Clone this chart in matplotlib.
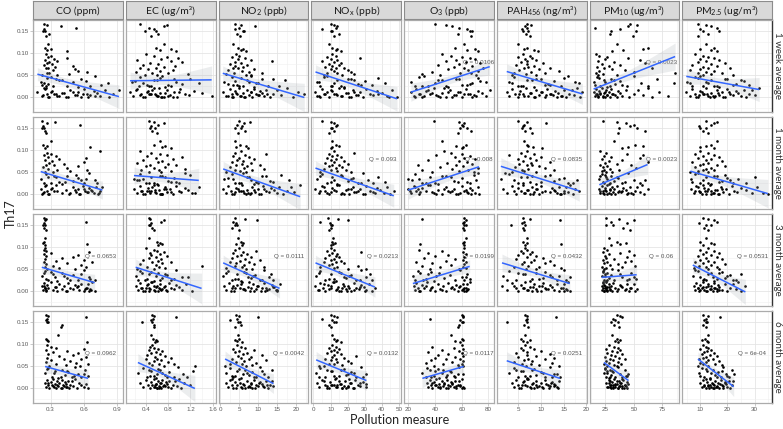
import numpy as np
import matplotlib
matplotlib.use("Agg")
import matplotlib.pyplot as plt
from matplotlib.ticker import MultipleLocator, FormatStrFormatter
import matplotlib.transforms as mtrans

plt.rcParams['font.family'] = ['Lato', 'DejaVu Sans']
plt.rcParams['mathtext.fontset'] = 'custom'
plt.rcParams['mathtext.rm'] = 'Lato'
plt.rcParams['mathtext.it'] = 'Lato:italic'
plt.rcParams['mathtext.bf'] = 'Lato:bold'

# ---------------- data ----------------
pollutants = ["CO (ppm)", "EC (ug/m³)", r"NO$_\mathrm{2}$ (ppb)", r"NO$_\mathrm{x}$ (ppb)",
              r"O$_\mathrm{3}$ (ppb)", r"PAH$_\mathrm{456}$ (ng/m³)", r"PM$_\mathrm{10}$ (ug/m³)",
              r"PM$_\mathrm{2.5}$ (ug/m³)"]
windows = ["1 week average", "1 month average", "3 month average", "6 month average"]

# Th17 value for each subject (shared by all panels)
th17 = [.168, .165, .162, .158, .155, .152, .150, .145, .140, .122, .112, .110, .108, .105,
        .098, .095, .092, .090, .088, .085, .082, .080, .078, .076, .074, .072, .070, .068,
        .066, .064, .062, .060, .058, .056, .055, .053, .052, .050,
        .035, .046, .027, .040, .024, .043, .030, .037, .025, .048, .032, .026, .042, .029,
        .045, .036, .025, .039, .028, .033,
        .012, .003, .019, .007, .001, .015, .009, .022, .004, .011, .000, .017, .006, .013,
        .002, .020, .008, .005, .014, .010, .003, .018, .001, .009, .016, .006, .021, .002,
        .012, .007, .004, .010, .000, .013, .005, .008, .001, .003]

# ---- CO ----
co_1w = [0.24,0.27,0.39,0.53,0.24,0.25,0.23,0.29,0.26,0.28,0.25,0.30,0.27,0.45,
         0.26,0.30,0.28,0.45,0.33,0.25,0.36,0.29,0.27,0.31,0.24,0.50,0.34,0.28,0.26,0.52,0.32,0.55,0.63,0.29,0.27,0.47,0.36,0.22,
         0.21,0.30,0.26,0.40,0.55,0.35,0.28,0.62,0.45,0.70,0.24,0.32,0.58,0.76,0.27,0.50,0.66,0.38,0.22,0.82,
         0.18,0.22,0.25,0.27,0.29,0.31,0.33,0.24,0.36,0.40,0.44,0.48,0.52,0.55,0.58,0.60,0.63,0.66,0.69,0.72,
         0.75,0.79,0.83,0.87,0.92,0.23,0.26,0.28,0.30,0.35,0.38,0.42,0.46,0.50,0.54,0.59,0.64,0.70]
co_1m = [0.22,0.34,0.27,0.57,0.23,0.22,0.24,0.25,0.26,0.30,0.23,0.27,0.66,0.25,
         0.75,0.27,0.30,0.24,0.35,0.28,0.62,0.38,0.25,0.31,0.60,0.29,0.42,0.26,0.33,0.55,0.23,0.45,0.28,0.36,0.63,0.48,0.25,0.32,
         0.21,0.26,0.30,0.35,0.40,0.45,0.50,0.55,0.60,0.65,0.70,0.24,0.33,0.43,0.53,0.62,0.72,0.28,0.38,0.58,
         0.21,0.23,0.25,0.27,0.29,0.31,0.33,0.35,0.40,0.44,0.47,0.50,0.53,0.55,0.57,0.59,0.61,0.63,0.65,0.67,
         0.69,0.71,0.73,0.75,0.77,0.24,0.26,0.28,0.30,0.36,0.48,0.52,0.56,0.60,0.64,0.68,0.22,0.74]
co_3m = [0.24,0.26,0.25,0.62,0.24,0.23,0.25,0.24,0.26,0.25,0.24,0.23,0.63,0.25,
         0.25,0.24,0.26,0.65,0.30,0.24,0.55,0.26,0.50,0.40,0.25,0.60,0.35,0.68,0.24,0.45,0.26,0.58,0.32,0.25,0.62,0.38,0.27,0.52,
         0.22,0.25,0.28,0.32,0.36,0.40,0.45,0.50,0.55,0.60,0.65,0.70,0.24,0.26,0.30,0.42,0.48,0.58,0.66,0.34,
         0.22,0.23,0.24,0.25,0.26,0.27,0.28,0.30,0.32,0.34,0.36,0.38,0.40,0.42,0.44,0.46,0.48,0.50,0.52,0.54,
         0.56,0.58,0.60,0.62,0.64,0.66,0.68,0.70,0.24,0.25,0.26,0.35,0.45,0.55,0.61,0.63,0.65,0.67]
co_6m = [0.26,0.28,0.62,0.27,0.26,0.28,0.27,0.40,0.39,0.37,0.26,0.27,0.28,0.63,
         0.27,0.30,0.35,0.60,0.26,0.45,0.32,0.55,0.28,0.50,0.38,0.62,0.27,0.42,0.58,0.30,0.48,0.26,0.53,0.35,0.64,0.44,0.29,0.57,
         0.25,0.28,0.31,0.34,0.37,0.40,0.43,0.46,0.49,0.52,0.55,0.58,0.61,0.64,0.27,0.33,0.39,0.45,0.51,0.60,
         0.25,0.26,0.27,0.28,0.29,0.30,0.31,0.32,0.33,0.34,0.35,0.36,0.37,0.38,0.39,0.40,0.41,0.42,0.43,0.44,
         0.45,0.46,0.47,0.48,0.49,0.50,0.52,0.54,0.56,0.58,0.60,0.62,0.64,0.28,0.32,0.36,0.40,0.44]

# ---- EC ----
ec_1w = [0.30,0.78,0.72,0.45,0.55,0.58,0.38,0.62,0.50,0.72,0.58,0.85,0.66,0.95,
         0.40,0.55,0.78,0.98,0.68,0.25,0.85,1.05,0.48,0.62,0.35,0.92,0.72,0.30,0.58,0.44,0.88,0.66,0.22,0.52,0.80,1.15,0.38,0.60,
         0.15,0.30,0.45,0.60,0.75,0.90,1.05,0.20,0.50,0.70,0.35,0.85,1.20,0.42,0.65,0.95,0.28,0.55,0.80,1.35,
         0.12,0.18,0.25,0.32,0.38,0.44,0.50,0.55,0.60,0.66,0.72,0.78,0.84,0.90,0.96,1.02,1.10,1.18,1.26,1.40,
         1.58,0.22,0.35,0.46,0.52,0.58,0.64,0.70,0.42,0.48,0.62,0.75,0.88,1.00,0.30,0.56,0.68,0.80]
ec_1m = [0.45,0.55,0.72,0.62,0.50,0.56,0.48,0.52,0.60,0.65,0.55,0.75,0.70,0.85,
         0.30,0.50,0.66,0.78,0.42,1.05,0.58,0.88,0.35,0.70,0.62,0.25,0.80,0.48,0.95,0.40,0.74,0.55,1.10,0.32,0.64,0.85,0.45,0.68,
         0.19,0.30,0.40,0.50,0.60,0.70,0.80,0.90,1.00,1.10,0.25,0.45,0.65,0.85,1.20,0.35,0.55,0.75,0.95,0.28,
         0.19,0.24,0.29,0.34,0.39,0.44,0.49,0.54,0.59,0.64,0.69,0.74,0.79,0.84,0.89,0.94,0.99,1.04,1.10,1.16,
         1.22,1.35,0.36,0.46,0.52,0.57,0.62,0.67,0.72,0.42,0.48,0.56,0.66,0.76,0.86,0.31,0.70,1.28]
ec_3m = [0.45,0.48,0.72,0.68,0.50,0.45,0.47,0.52,0.55,0.46,0.60,0.66,0.70,0.62,
         0.40,0.55,0.60,0.72,0.48,0.65,0.50,0.78,0.58,0.45,0.68,0.35,0.62,0.85,0.52,0.70,0.30,0.58,1.40,0.42,0.64,0.75,0.25,0.55,
         0.22,0.30,0.38,0.46,0.54,0.62,0.70,0.78,0.86,0.94,1.05,0.26,0.34,0.42,0.50,0.58,0.66,0.74,0.90,1.15,
         0.22,0.26,0.30,0.34,0.38,0.42,0.46,0.50,0.54,0.58,0.62,0.66,0.70,0.74,0.78,0.82,0.86,0.90,0.95,1.00,
         1.05,1.12,1.22,0.40,0.44,0.48,0.52,0.56,0.60,0.64,0.68,0.72,0.45,0.55,0.65,0.32,0.36,0.76]
ec_6m = [0.52,0.55,0.95,0.53,0.50,0.33,0.52,0.54,0.55,0.50,0.53,0.58,0.60,0.56,
         0.52,0.48,0.55,0.62,0.45,0.70,0.58,0.50,0.66,0.42,0.75,0.56,0.85,0.60,0.40,0.68,0.54,0.80,0.46,0.64,0.90,0.52,1.28,0.72,
         0.26,0.35,0.42,0.50,0.58,0.66,0.74,0.82,0.90,0.98,1.06,1.14,0.45,0.55,0.62,0.70,0.78,1.24,0.48,0.60,
         0.30,0.36,0.40,0.44,0.48,0.50,0.52,0.54,0.56,0.58,0.60,0.62,0.64,0.66,0.68,0.70,0.72,0.74,0.76,0.78,
         0.80,0.82,0.85,0.88,0.92,0.96,1.00,1.04,1.08,1.20,0.55,0.59,0.63,0.67,0.71,0.57,0.61,0.65]

# ---- NO2 ----
no2_1w = [4.0,5.5,9.2,5.0,3.8,5.9,6.4,4.5,5.2,3.5,4.8,6.0,5.6,6.8,
          4.2,5.0,3.0,6.5,4.6,8.2,13.5,3.8,5.5,2.6,7.0,4.0,6.0,3.3,4.8,9.0,2.2,5.8,7.5,3.6,11.0,1.5,6.8,8.0,
          1.0,3.0,5.0,7.0,9.0,11.0,2.0,4.0,6.0,8.0,10.0,12.5,14.0,3.5,5.5,7.5,15.5,17.0,4.5,9.5,
          0.7,1.5,2.5,3.0,3.5,4.0,4.5,5.0,5.5,6.0,6.5,7.0,7.5,8.0,8.5,9.0,9.5,10.0,10.5,11.0,
          11.5,12.0,13.0,14.0,15.0,16.0,17.5,19.0,20.5,22.1,2.0,4.2,6.2,8.2,10.2,12.2,3.2,5.2]
no2_1m = [5.0,7.9,6.2,4.5,5.8,4.0,5.4,6.5,4.8,3.8,5.2,6.8,4.2,7.2,
          5.5,4.0,12.0,6.5,3.5,7.5,5.0,9.0,4.5,6.0,3.0,8.0,5.8,10.5,4.2,7.0,2.5,6.2,11.5,3.8,8.5,5.2,1.5,6.8,
          1.0,3.0,5.0,7.0,9.0,11.0,13.0,2.0,4.0,6.0,8.0,10.0,12.0,14.0,16.0,3.5,5.5,7.5,9.5,18.0,
          0.8,1.5,2.2,2.9,3.6,4.3,5.0,5.7,6.4,7.1,7.8,8.5,9.2,9.9,10.6,11.3,12.0,12.7,13.4,14.1,
          14.8,15.5,16.5,17.5,18.5,19.5,21.0,3.2,4.6,6.0,7.4,8.8,10.2,11.6,4.0,5.4,6.8,8.2]
no2_3m = [4.0,6.6,9.6,3.5,4.2,3.8,4.5,3.2,5.0,4.8,5.5,6.0,4.3,5.8,
          5.0,4.0,9.5,6.0,3.5,7.0,5.5,4.5,8.0,3.0,6.5,10.5,5.2,2.5,7.5,4.2,9.0,6.2,3.8,11.5,5.8,1.5,8.5,6.8,
          0.8,2.0,3.2,4.4,5.6,6.8,8.0,9.2,10.4,11.6,12.8,14.0,1.5,3.8,6.2,8.6,11.0,13.4,4.8,7.2,
          0.9,1.6,2.3,3.0,3.7,4.4,5.1,5.8,6.5,7.2,7.9,8.6,9.3,10.0,10.7,11.4,12.1,12.8,13.5,14.2,
          14.9,15.6,2.8,4.0,5.4,6.2,7.6,8.8,9.8,10.9,12.4,13.8,15.0,3.5,6.0,8.2,11.8,14.6]
no2_6m = [4.2,5.0,10.0,4.5,2.6,4.8,5.2,5.5,4.0,4.6,5.0,3.8,4.4,5.8,
          4.5,5.5,6.5,3.5,9.0,5.0,4.0,7.0,6.0,11.0,4.8,8.0,5.5,3.0,7.5,12.0,6.2,4.2,9.5,5.8,2.5,8.5,6.8,1.3,
          1.5,2.5,3.5,4.5,5.5,6.5,7.5,8.5,9.5,10.5,11.5,12.5,13.5,3.0,5.0,7.0,9.0,11.0,4.0,6.0,
          1.5,2.0,2.5,3.0,3.5,4.0,4.5,5.0,5.5,6.0,6.5,7.0,7.5,8.0,8.5,9.0,9.5,10.0,10.5,11.0,
          11.5,12.0,12.5,13.0,13.5,14.0,3.2,4.2,5.2,6.2,7.2,8.2,9.2,10.2,11.2,12.2,5.8,7.8]

# ---- NOx ----
nox_1w = [10,12,14,13,5,11,10,15,12,9,11,14,13,16,
          11,13,8,27,10,14,5,12,16,9,15,11,7,18,13,10,20,12,22,8,14,24,6,17,
          2,6,10,14,18,22,26,30,4,8,12,16,20,34,38,3,11,24,28,42,
          1.2,3,5,7,9,11,13,15,17,19,21,23,25,27,29,31,33,35,37,40,
          43,46,48.9,6,10,14,18,22,8,12,16,20,4,24,26,38,44,2]
nox_1m = [5,10,12,14,13,11,10,12,9,11,13,15,11,10,
          12,24,9,14,11,16,8,13,10,18,12,7,20,15,11,9,17,13,6,19,10,14,22,4,
          2,5,8,11,14,17,20,23,26,29,32,35,4,10,16,22,28,38,42,12,
          1.2,3,5,7,9,11,13,15,17,19,21,23,25,27,29,31,33,35,37,39,
          41,43,45,47,6,10,14,18,22,26,8,12,16,20,24,4,30,36]
nox_3m = [8.3,14.3,20.2,4.0,9.5,10.5,11.0,10.0,9.0,11.5,10.8,12.5,11.2,10.2,
          10,12,8,28,11,14,9,13,15,7,12,10,16,6,13,18,11,9,26,14,4,12,20,31,
          1.5,4,7,10,13,16,19,22,25,28,31,34,3,9,15,21,27,33,12,18,
          1.2,2.5,4,5.5,7,8.5,10,11.5,13,14.5,16,17.5,19,20.5,22,23.5,25,26.5,28,29.5,
          31,32.5,34,36,6,9,12,15,18,21,24,27,30,10.5,13.5,16.5,19.5,3]
nox_6m = [10,12,14,5,11,13,12,9,10,11,12,14,13,16,
          11,13,9,15,12,10,14,8,16,12,25,11,18,7,13,10,20,14,22,9,12,17,6,3,
          1.6,4,7,10,13,16,19,22,25,28,31,3,8,12,18,24,29,11,15,20,
          2,3.5,5,6.5,8,9.5,11,12.5,14,15.5,17,18.5,20,21.5,23,24.5,26,27.5,29,30.5,
          31,6,9,12,15,18,21,24,27,10,13,16,19,22,8,14,17,20]

# ---- O3 ----
o3_1w = [40,48,53,58,64,66,68,57,67,62,55,70,64,72,
         45,52,60,66,70,56,48,63,74,58,42,68,54,62,76,50,65,72,38,59,67,30,44,71,
         22,28,35,42,50,58,66,74,25,32,40,48,56,64,72,78,30,45,60,68,
         22,24,26,28,30,33,36,39,42,45,48,51,54,57,60,63,66,69,72,75,
         78,81,25,29,35,41,47,53,59,65,71,38,44,50,56,62,68,32]
o3_1m = [39,58,62,60,61,64,59,67,57,45,63,56,61,60,
         47,52,60,41,66,55,62,70,35,58,64,49,68,27,56,61,44,72,53,65,30,58,38,69,
         20,25,30,36,42,48,54,60,66,72,23,33,45,57,69,28,40,52,64,71,
         20,22,24,26,28,30,33,36,39,42,45,48,51,54,57,60,62,64,66,68,
         70,72,73,21,25,29,35,41,47,53,59,63,67,27,38,50,56,65]
o3_3m = [62,30,63,62,61,62,63,61,62,63,62,61,29,62,
         62,28,45,61,35,63,50,40,62,32,55,61,48,26,63,38,62,52,30,61,44,63,58,36,
         23.5,27,31,35,39,43,47,51,55,59,63,25,29,33,37,41,62,64,66,60,
         24,25,26,27,28,30,32,34,36,38,40,42,44,46,48,50,52,54,56,58,
         60,61,62,63,64,65,66,29,33,37,45,53,57,59,61,62,63,64]
o3_6m = [60,61,61,36,59,60,61,58,57,52,60,61,55,59,
         60,38,54,61,45,58,35,60,50,42,61,55,40,59,48,37,61,53,33,60,46,57,39,61,
         30.6,34,37,40,43,46,49,52,55,58,61,33,36,39,42,45,48,51,54,57,
         34,35,36,37,38,39,40,41,42,43,44,45,46,47,48,49,50,51,52,53,
         54,55,56,57,58,59,60,61.5,38,41,44,47,50,53,56,59,60,61]

# ---- PAH456 ----
pah_1w = [7.0,7.8,6.5,6.8,5.8,7.2,6.0,6.6,7.5,4.8,7.0,6.2,8.5,9.4,
          6.0,7.5,5.0,8.0,6.5,9.0,7.0,5.5,10.5,6.8,4.5,8.5,7.2,12.0,6.2,9.5,5.2,14.0,7.8,4.0,11.0,6.6,3.5,8.8,
          2.8,4.0,5.5,7.0,8.5,10.0,11.5,13.0,14.5,16.0,3.5,6.0,9.0,12.0,15.0,17.5,5.0,8.0,11.0,18.5,
          2.4,3.0,3.6,4.2,4.8,5.4,6.0,6.6,7.2,7.8,8.4,9.0,9.6,10.2,10.8,11.4,12.0,12.6,13.2,13.8,
          14.4,15.0,15.6,16.2,16.8,17.4,18.0,18.6,19.2,5.1,6.3,7.5,8.7,9.9,11.1,12.3,13.5,14.7]
pah_1m = [4.9,6.8,11.2,6.2,6.0,5.8,7.5,6.5,8.0,6.3,7.0,7.2,8.2,10.3,
          7.0,5.5,8.5,3.0,6.5,10.0,7.5,4.8,9.0,6.0,12.0,7.8,5.2,8.0,6.8,9.5,4.2,11.0,7.2,5.8,13.0,6.2,8.8,3.5,
          1.1,3.0,5.0,7.0,9.0,11.0,13.0,15.0,17.0,2.0,4.0,6.0,8.0,10.0,12.0,14.0,16.0,5.5,7.5,18.0,
          1.5,2.5,3.5,4.0,4.5,5.0,5.5,6.0,6.5,7.0,7.5,8.0,8.5,9.0,9.5,10.0,11.0,12.0,12.5,13.0,
          13.5,14.0,14.5,15.0,15.5,16.0,16.5,17.0,17.5,18.5,6.2,7.2,8.2,9.2,10.2,13.2,14.2,15.2]
pah_3m = [6.0,7.5,14.2,6.2,5.8,3.4,6.5,6.0,6.3,6.8,5.9,7.0,14.5,6.4,
          6.5,7.0,5.5,8.0,6.0,7.5,5.0,9.0,6.8,10.5,4.5,8.5,12.0,6.2,7.8,11.0,5.8,13.0,7.2,9.5,4.0,14.5,6.6,8.8,
          1.5,3.0,4.5,6.0,7.5,9.0,10.5,12.0,13.5,15.0,16.4,2.5,5.0,8.0,11.0,14.0,15.5,6.5,9.5,12.5,
          1.35,2.5,3.5,4.5,5.0,5.5,6.0,6.5,7.0,7.5,8.0,8.5,9.0,9.5,10.0,10.5,11.0,11.5,12.0,12.5,
          13.0,13.5,14.0,14.5,15.0,15.5,16.0,16.4,4.0,6.2,7.2,8.2,9.2,10.2,11.2,14.8,15.2,15.8]
pah_6m = [6.5,7.0,13.4,6.8,6.6,2.4,6.9,6.2,7.2,6.4,5.5,7.5,6.0,7.0,
          6.5,7.5,5.5,8.5,6.0,10.0,7.0,4.5,12.0,6.8,9.0,5.0,13.0,7.2,11.0,6.2,8.0,4.0,12.5,7.8,5.8,9.5,6.6,14.0,
          3.0,4.0,5.0,6.0,7.0,8.0,9.0,10.0,11.0,12.0,13.0,14.2,4.5,6.5,8.5,10.5,12.5,5.5,7.5,13.5,
          3.5,4.0,4.5,5.0,5.5,6.0,6.5,7.0,7.5,8.0,8.5,9.0,9.5,10.0,10.5,11.0,11.5,12.0,12.5,13.0,
          13.5,14.0,5.2,5.8,6.2,6.8,7.2,7.8,8.2,8.8,9.2,11.2,11.8,12.2,12.8,13.2,13.8,10.2]

# ---- PM10 ----
pm10_1w = [47,53,45,16,38,52,30,29,49,35,62,58,41,31,
           17,20,27,45,25,55,19,33,60,22,38,28,18,66,24,31,42,20,50,17,86,23,35,19,
           15,18,21,24,27,30,34,38,44,50,56,62,70,16,20,25,29,33,40,85,
           15,16,17,18,19,20,21,22,23,24,25,26,27,28,29,30,32,34,36,38,
           40,43,46,50,54,58,62,66,72,17,19,21,23,25,27,31,35,80]
pm10_1m = [23,35,43,50,47,53,37,60,36,33,51,58,45,40,
           21,26,44,58,24,30,55,22,40,28,62,25,35,21,48,27,23,52,29,24,37,22,31,26,
           20,22,24,26,28,30,33,36,40,45,50,55,21,23,25,27,29,35,42,60,
           20,21,22,23,24,25,26,27,28,29,30,31,32,33,34,35,37,39,41,43,
           45,47,49,51,53,55,57,59,62,21,23,25,27,29,36,40,44,48]
pm10_3m = [25.6,37,50,30,44,26,32,41,47,28,35,43,38,30,
           24,27,46,23,38,28,50,25,44,26,33,23,48,27,42,24,36,29,51,22,40,26,31,24,
           22,23,24,25,26,27,28,30,33,36,40,44,48,52,23,25,27,38,46,50,
           22,22.5,23,23.5,24,24.5,25,25.5,26,26.5,27,28,29,30,31,32,34,36,38,40,
           42,44,46,48,50,52.5,23,24,25,26,27,28,35,39,43,47,51,29]
pm10_6m = [35,38,40,32,34,36,30,33,37,31,35,38,34,36,
           28,33,36,26,38,31,35,27,40,30,34,25,37,29,42,32,26,36,28,39,24.5,33,27,35,
           24,25,26,27,28,29,30,32,34,36,38,40,42,44,25,27,29,31,43,45,
           26,27,28,29,30,31,32,33,34,35,36,37,38,39,40,41,42,43,44,45.4,
           27.5,29.5,31.5,33.5,35.5,37.5,39.5,41.5,28,30,32,34,36,38,40,42,44,29]

# ---- PM2.5 ----
pm25_1w = [9,12,14,16,10,17,11,13,9,12,15,10,14,16,
           8,11,13,15,10,17,12,9,19,14,7,16,11,13,21,10,6,15,12,18,9,14,22,11,
           5,8,11,14,17,20,23,26,7,10,13,16,19,22,9,12,15,25,28,6,
           4.8,6,7,8,9,10,11,12,13,14,15,16,17,18,19,20,21,22,23,24,
           25,26,27,28,29,30,31.7,8.5,10.5,12.5,14.5,16.5,18.5,20.5,9.5,11.5,13.5,15.5]
pm25_1m = [12,16,15,14,9.5,12,10,11,13,16,14,12,10,15,
           10,13,8,15,11,17,9,14,12,18,7,13,11,16,10,19,8,14,12,15,11,9,13,6.3,
           6.5,8,10,12,14,16,18,20,22,9,11,13,15,17,19,24,27,30,7,21,
           6.5,7.5,8.5,9.5,10.5,11.5,12.5,13.5,14.5,15.5,16.5,17.5,18.5,19.5,20.5,21.5,22.5,23.5,25,27,
           29,31,34.9,8,9,10,11,12,13,14,15,16,17,18,9.8,11.8,13.8,33]
pm25_3m = [11,13,15,16,9.5,12,14,11.5,13,12,10,14,15,11,
           13,10,15,12,17,11,14,9,16,12,18,10,13,8,15,11,19,14,9.5,16,12,7.5,13,17,
           7.2,9,11,13,15,17,19,21,23,8,10,12,14,16,18,20,22,25,11.5,14.5,
           7.5,8,8.5,9,9.5,10,10.5,11,11.5,12,12.5,13,13.5,14,14.5,15,15.5,16,16.5,17,
           18,19,20,21,22,23,24,25,26.6,9,10,11,12,13,14,15,16,17]
pm25_6m = [11,13,17.3,12,11.5,12.5,12,11,12.2,12.8,11.8,10.5,12.5,13,
           11,12,13,10,14,12.5,11.5,15,10.5,13.5,16,12,11,14.5,9.5,13,17,12,10,15.5,11,18,13,9.1,
           9.5,10.5,11.5,12.5,13.5,14.5,15.5,16.5,17.5,18.5,19.5,20.5,21.5,10,12,14,16,18,20,22.3,
           10,10.5,11,11.5,12,12.5,13,13.5,14,14.5,15,15.5,16,16.5,17,17.5,18,18.5,19,19.5,
           20,20.5,21,21.5,22,11.2,12.2,13.2,14.2,15.2,16.2,17.2,18.2,19.2,12.7,13.7,14.7,15.7]

# fitted (lm) Th17 value at the lowest / highest exposure of each panel
fit_lo_1w = [0.053, 0.038, 0.055, 0.058, 0.012, 0.059, 0.019, 0.048]
fit_hi_1w = [0.002, 0.040, 0.000, -0.003, 0.070, 0.008, 0.093, 0.018]
fit_lo_1m = [0.052, 0.043, 0.058, 0.060, 0.010, 0.064, 0.022, 0.053]
fit_hi_1m = [0.010, 0.032, -0.005, -0.003, 0.063, 0.008, 0.068, 0.002]
fit_lo_3m = [0.055, 0.055, 0.065, 0.065, 0.018, 0.065, 0.032, 0.060]
fit_hi_3m = [0.020, 0.007, 0.007, 0.010, 0.057, 0.018, 0.038, -0.001]
fit_lo_6m = [0.050, 0.059, 0.067, 0.065, 0.023, 0.063, 0.059, 0.067]
fit_hi_6m = [0.023, 0.000, 0.011, 0.018, 0.050, 0.023, 0.018, 0.004]

# Q values (FDR) printed in the panels ("" = none)
q_1w = ["", "", "", "", "0.0106", "", "0.0023", ""]
q_1m = ["", "", "", "0.093", "0.008", "0.0835", "0.0023", ""]
q_3m = ["0.0653", "", "0.0111", "0.0213", "0.0199", "0.0432", "0.06", "0.0531"]
q_6m = ["0.0962", "", "0.0042", "0.0132", "0.0117", "0.0251", "", "6e-04"]

# ---------------- assemble ----------------
columns = [[co_1w, co_1m, co_3m, co_6m], [ec_1w, ec_1m, ec_3m, ec_6m],
           [no2_1w, no2_1m, no2_3m, no2_6m], [nox_1w, nox_1m, nox_3m, nox_6m],
           [o3_1w, o3_1m, o3_3m, o3_6m], [pah_1w, pah_1m, pah_3m, pah_6m],
           [pm10_1w, pm10_1m, pm10_3m, pm10_6m], [pm25_1w, pm25_1m, pm25_3m, pm25_6m]]
fit_lo = [fit_lo_1w, fit_lo_1m, fit_lo_3m, fit_lo_6m]
fit_hi = [fit_hi_1w, fit_hi_1m, fit_hi_3m, fit_hi_6m]
q_vals = [q_1w, q_1m, q_3m, q_6m]

x_major = [0.3, 0.4, 5, 10, 20, 5, 25, 10]
x_fmt = ['%.1f', '%.1f', '%d', '%d', '%d', '%d', '%d', '%d']
q_xpos = [0.75, 0.78, 0.78, 0.79, 0.83, 0.78, 0.80, 0.78]

W, H = 783, 429
fig = plt.figure(figsize=(W / 100, H / 100), dpi=100)
fig.patch.set_facecolor('white')

left0, colw, colstep = 33.3, 89.7, 92.7
top0, rowh, rowstep = 20.0, 92.0, 97.0
ylim = (-0.033, 0.176)
y = np.array(th17)

for c in range(8):
    allx = np.concatenate([np.array(v, float) for v in columns[c]])
    lo, hi = allx.min(), allx.max()
    pad = 0.05 * (hi - lo)
    xlim = (lo - pad, hi + pad)
    for r in range(4):
        ax = fig.add_axes([(left0 + c * colstep) / W, 1 - (top0 + r * rowstep + rowh) / H,
                           colw / W, rowh / H])
        x = np.array(columns[c][r], float)
        n = min(len(x), len(y))
        xx, yy = x[:n], y[:n]
        ax.scatter(xx, yy, s=3.6, c='black', linewidths=0, zorder=2)

        # regression line + 95% band
        x0, x1 = xx.min(), xx.max()
        b = (fit_hi[r][c] - fit_lo[r][c]) / (x1 - x0)
        a = fit_lo[r][c] - b * x0
        xs = np.linspace(x0, x1, 80)
        ys = a + b * xs
        resid = yy - (a + b * xx)
        s = np.sqrt(np.sum(resid ** 2) / (n - 2))
        sxx = np.sum((xx - xx.mean()) ** 2)
        se = s * np.sqrt(1.0 / n + (xs - xx.mean()) ** 2 / sxx)
        ax.fill_between(xs, ys - 1.96 * se, ys + 1.96 * se, color='#A8ADB3', alpha=0.22,
                        linewidth=0, zorder=3)
        ax.plot(xs, ys, color='#3366FF', lw=1.1, zorder=4, solid_capstyle='butt')

        q = q_vals[r][c]
        if q:
            tr = mtrans.blended_transform_factory(ax.transAxes, ax.transData)
            ax.text(q_xpos[c], 0.08, "Q = " + q, transform=tr, ha='center', va='center',
                    fontsize=4.5, color='#555555', family='Liberation Sans', zorder=1.5)

        ax.set_xlim(xlim)
        ax.set_ylim(ylim)
        ax.xaxis.set_major_locator(MultipleLocator(x_major[c]))
        ax.xaxis.set_minor_locator(MultipleLocator(x_major[c] / 2))
        ax.xaxis.set_major_formatter(FormatStrFormatter(x_fmt[c]))
        ax.yaxis.set_major_locator(MultipleLocator(0.05))
        ax.yaxis.set_minor_locator(MultipleLocator(0.025))
        ax.yaxis.set_major_formatter(FormatStrFormatter('%.2f'))
        ax.grid(which='major', color='#E3E3E3', lw=0.55, zorder=0)
        ax.grid(which='minor', color='#F0F0F0', lw=0.4, zorder=0)
        ax.set_axisbelow(True)
        for sp in ax.spines.values():
            sp.set_color('#ABABAB')
            sp.set_linewidth(0.9)
        if c == 7:
            ax.spines['right'].set_color('#333333')
            ax.spines['right'].set_linewidth(1.0)
        ax.tick_params(which='minor', length=0)
        ax.tick_params(which='major', length=2, width=0.5, color='#B3B3B3',
                       labelsize=4.5, labelcolor='#5A5A5A', pad=1.2,
                       labelfontfamily='Liberation Sans')
        ax.tick_params(axis='x', bottom=(r == 3), labelbottom=(r == 3))
        ax.tick_params(axis='y', left=(c == 0), labelleft=(c == 0))

    # top strip
    sax = fig.add_axes([(left0 + c * colstep) / W, 1 - 19.4 / H, colw / W, 18.0 / H])
    sax.set_facecolor('#D9D9D9')
    sax.set_xticks([])
    sax.set_yticks([])
    for sp in sax.spines.values():
        sp.set_color('#8C8C8C')
        sp.set_linewidth(0.8)
    sax.text(0.5, 0.47, pollutants[c], ha='center', va='center', fontsize=7.5, color='#1A1A1A',
             transform=sax.transAxes)

for r in range(4):
    fig.text(777.5 / W, 1 - (top0 + r * rowstep + rowh / 2) / H, windows[r], rotation=270,
             ha='center', va='center', fontsize=7, color='#333333')

fig.text(400 / W, 1 - 420 / H, "Pollution measure", ha='center', va='center', fontsize=9,
         color='#222222')
fig.text(11 / W, 1 - 214 / H, "Th17", ha='center', va='center', rotation=90, fontsize=9,
         color='#222222')

fig.savefig("out.png", dpi=100, facecolor='white')
